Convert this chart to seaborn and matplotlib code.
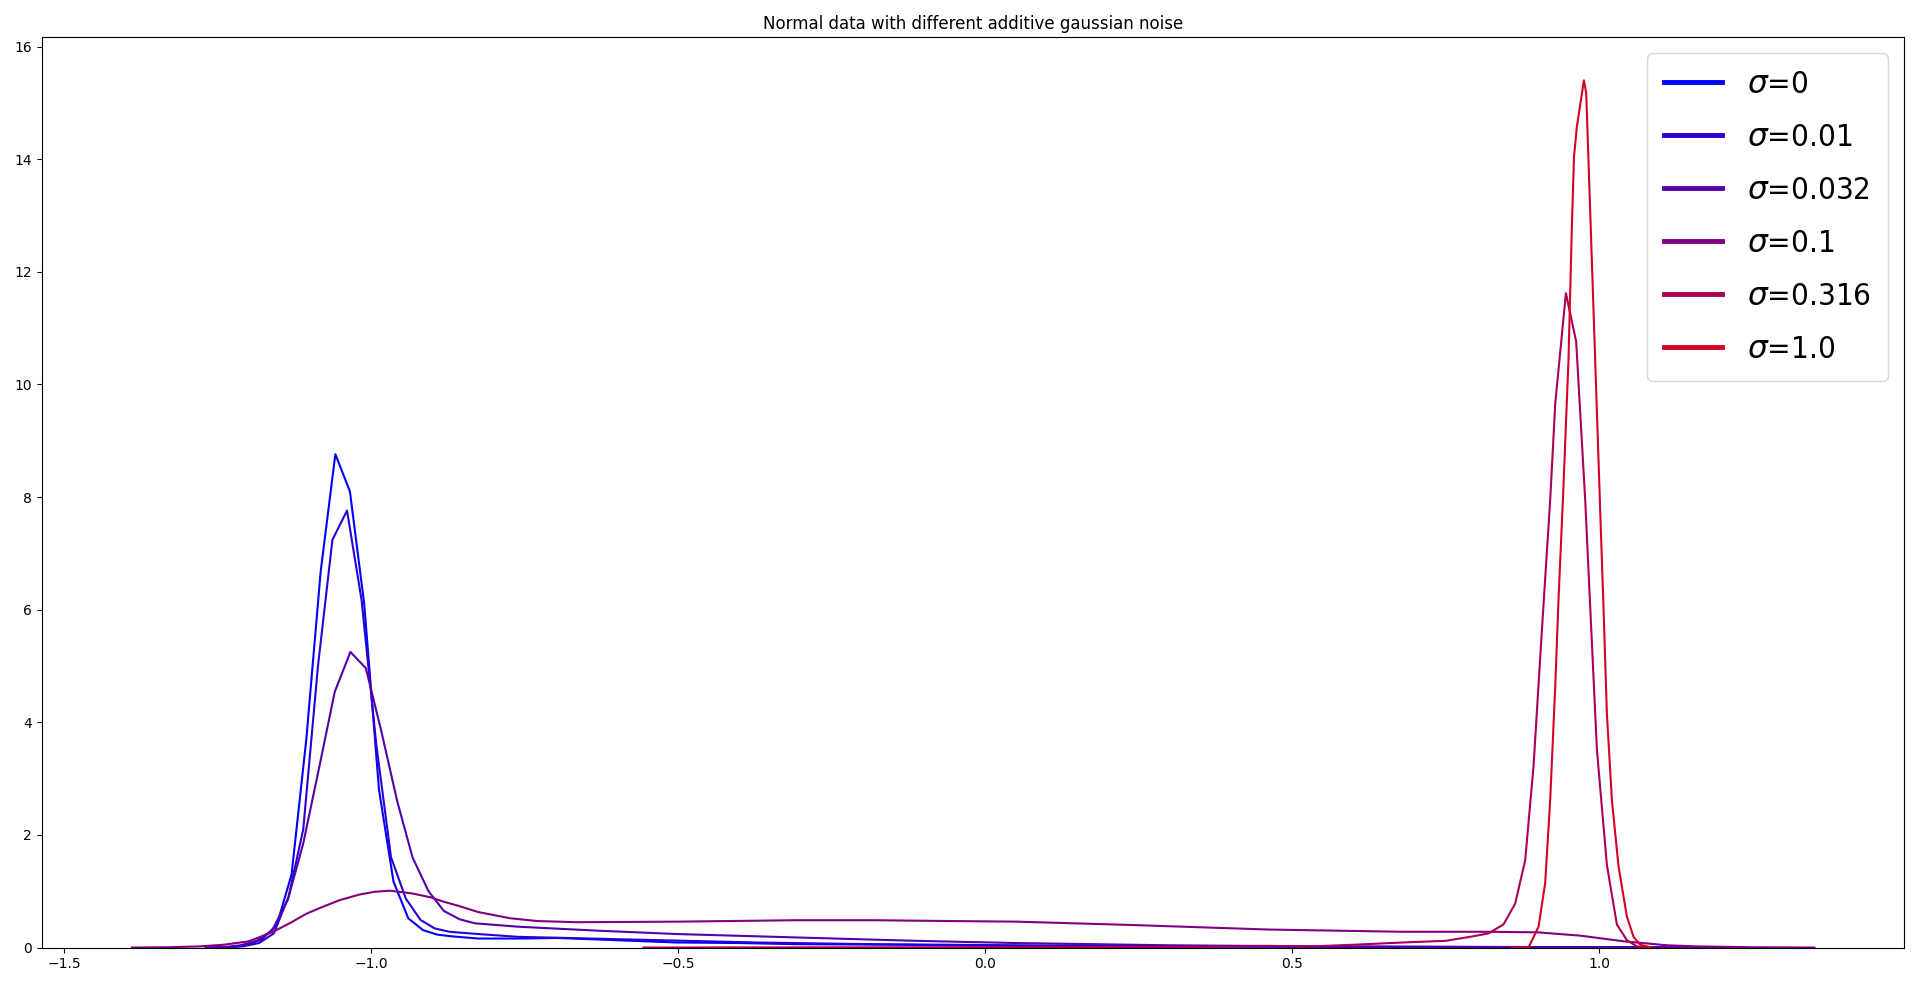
import matplotlib.pyplot as plt
import seaborn as sns
import pandas as pd

# noise levels and the density curves
sigma_labels = ["0", "0.01", "0.032", "0.1", "0.316", "1.0"]

x_s0 = [-1.26, -1.225, -1.201, -1.178, -1.154, -1.130, -1.106, -1.0826, -1.0587, -1.035,
        -1.0117, -0.9876, -0.964, -0.940, -0.916, -0.893, -0.87, -0.826, -0.76, -0.697,
        -0.6, -0.503, -0.4, -0.31, -0.15, 0.05, 0.2, 0.4, 0.6, 0.8, 1.0, 1.15]
y_s0 = [0.0, 0.01, 0.05, 0.15, 0.4, 1.3, 3.7, 6.68, 8.76, 8.10,
        6.1, 2.8, 1.17, 0.52, 0.31, 0.23, 0.2, 0.16, 0.16, 0.17,
        0.13, 0.09, 0.08, 0.06, 0.05, 0.03, 0.02, 0.015, 0.01, 0.008, 0.005, 0.0]

x_s1 = [-1.25, -1.21, -1.183, -1.159, -1.135, -1.111, -1.087, -1.0635, -1.0397, -1.016,
        -0.992, -0.968, -0.944, -0.920, -0.897, -0.873, -0.826, -0.761, -0.68, -0.568,
        -0.45, -0.374, -0.25, -0.18, 0.05, 0.25, 0.45, 0.65, 0.85, 1.05, 1.2]
y_s1 = [0.0, 0.02, 0.08, 0.25, 0.9, 2.1, 5.0, 7.24, 7.76, 6.17,
        3.6, 1.6, 0.87, 0.49, 0.34, 0.28, 0.24, 0.19, 0.17, 0.14,
        0.11, 0.09, 0.07, 0.06, 0.04, 0.03, 0.02, 0.015, 0.01, 0.005, 0.0]

x_s2 = [-1.27, -1.238, -1.213, -1.187, -1.162, -1.136, -1.111, -1.085, -1.0597, -1.0342,
        -1.009, -0.984, -0.958, -0.933, -0.907, -0.882, -0.856, -0.831, -0.761, -0.632,
        -0.503, -0.31, -0.116, 0.05, 0.3, 0.55, 0.8, 1.0, 1.22]
y_s2 = [0.0, 0.01, 0.04, 0.12, 0.3, 0.85, 1.85, 3.2, 4.54, 5.25,
        4.96, 3.85, 2.6, 1.6, 1.0, 0.65, 0.5, 0.43, 0.37, 0.30,
        0.24, 0.18, 0.12, 0.08, 0.04, 0.02, 0.01, 0.008, 0.0]

x_s3 = [-1.39, -1.33, -1.28, -1.24, -1.2, -1.16, -1.13, -1.106, -1.08, -1.052,
        -1.02, -0.995, -0.97, -0.955, -0.933, -0.903, -0.881, -0.858, -0.826, -0.774,
        -0.729, -0.665, -0.5, -0.31, -0.18, -0.05, 0.05, 0.24, 0.46, 0.68,
        0.82, 0.9, 0.97, 1.04, 1.11, 1.16, 1.25, 1.35]
y_s3 = [0.0, 0.005, 0.02, 0.05, 0.11, 0.28, 0.45, 0.60, 0.72, 0.84,
        0.94, 0.99, 1.01, 0.99, 0.96, 0.89, 0.81, 0.74, 0.63, 0.52,
        0.47, 0.45, 0.46, 0.485, 0.485, 0.47, 0.46, 0.40, 0.32, 0.28,
        0.28, 0.27, 0.21, 0.11, 0.04, 0.02, 0.005, 0.0]

x_s4 = [-0.557, -0.3, 0.0, 0.2, 0.35, 0.39, 0.46, 0.53, 0.6, 0.68,
        0.75, 0.789, 0.819, 0.8436, 0.8627, 0.879, 0.8925, 0.906, 0.9197, 0.928,
        0.9453, 0.962, 0.9767, 0.9958, 1.012, 1.0283, 1.0446, 1.061, 1.08]
y_s4 = [0.0, 0.003, 0.005, 0.008, 0.012, 0.02, 0.03, 0.02, 0.05, 0.09,
        0.12, 0.19, 0.25, 0.41, 0.78, 1.55, 3.21, 5.6, 7.95, 9.67,
        11.62, 10.76, 7.95, 3.51, 1.47, 0.41, 0.13, 0.02, 0.0]

x_s5 = [0.857, 0.8844, 0.9007, 0.9115, 0.9197, 0.9279, 0.9332, 0.9404, 0.9495, 0.955,
        0.9585, 0.9632, 0.9746, 0.9784, 0.982, 0.990, 1.0011, 1.0065, 1.012, 1.0202,
        1.031, 1.0446, 1.0554, 1.0663, 1.085]
y_s5 = [0.0, 0.0, 0.37, 1.14, 2.62, 4.63, 6.17, 7.95, 10.43, 12.8,
        14.05, 14.58, 15.40, 15.17, 14.0, 11.4, 7.77, 6.05, 4.16, 2.62,
        1.44, 0.55, 0.19, 0.05, 0.0]

curves = [(x_s0, y_s0), (x_s1, y_s1), (x_s2, y_s2),
          (x_s3, y_s3), (x_s4, y_s4), (x_s5, y_s5)]

# blue -> red
n = len(sigma_labels)
colors = [(i / n, 0, 1 - i / n) for i in range(n)]

fig, ax = plt.subplots(figsize=(19.2, 9.86), dpi=100)
fig.subplots_adjust(left=0.0217, right=0.9917, bottom=0.039, top=0.9625)

for (xs, ys), lab, col in zip(curves, sigma_labels, colors):
    df = pd.DataFrame({"x": xs, "density": ys})
    sns.lineplot(data=df, x="x", y="density", color=col, lw=1.5,
                 label=r"$\sigma$=" + lab, ax=ax)

ax.set_xlim(-1.537, 1.496)
ax.set_ylim(0, 16.17)
ax.set_xlabel("")
ax.set_ylabel("")
ax.set_title("Normal data with different additive gaussian noise")

leg = ax.legend(loc="upper right",
                prop={"family": "DejaVu Sans", "stretch": "condensed", "size": 22.5},
                labelspacing=0.77, borderpad=0.55, handlelength=1.85)
for line in leg.get_lines():
    line.set_linewidth(3.5)

plt.savefig("out.png", dpi=100)
